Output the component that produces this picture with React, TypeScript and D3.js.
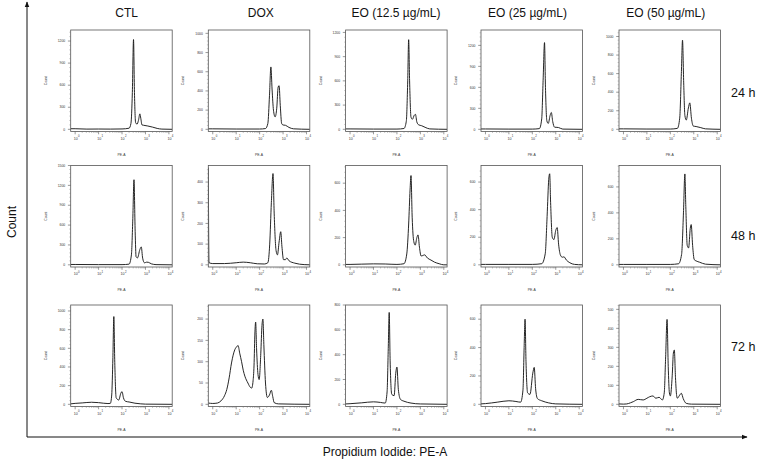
import React from "react";
import * as d3 from "d3";

const conditions = ["CTL", "DOX", "EO (12.5 µg/mL)", "EO (25 µg/mL)", "EO (50 µg/mL)"];
const timepoints = ["24 h", "48 h", "72 h"];
const xDecades = [0, 1, 2, 3, 4];

// histogram outlines: [log10(PE-A), count]
const ctl24 = [[-0.19,8],[0,8],[0.5,3],[1,4],[1.5,3],[2,5],[2.3,15],[2.38,80],[2.44,500],[2.49,1220],[2.53,500],[2.58,90],[2.64,70],[2.7,120],[2.76,210],[2.8,150],[2.85,60],[2.92,55],[3.1,45],[3.3,30],[3.5,12],[3.7,3],[4.14,0]];
const dox24 = [[-0.19,5],[0,5],[1,3],[2,3],[2.25,8],[2.35,60],[2.42,350],[2.48,650],[2.53,420],[2.59,200],[2.66,130],[2.73,220],[2.79,440],[2.83,455],[2.88,250],[2.94,60],[3.0,45],[3.1,42],[3.25,20],[3.45,5],[4.14,0]];
const eo12_24 = [[-0.19,5],[0,5],[1,3],[2,3],[2.3,10],[2.4,100],[2.46,600],[2.5,1110],[2.54,600],[2.6,150],[2.66,125],[2.74,175],[2.79,185],[2.85,90],[2.93,55],[3.05,45],[3.2,25],[3.4,5],[4.14,0]];
const eo25_24 = [[-0.19,5],[0,5],[1,3],[2,3],[2.3,10],[2.4,150],[2.46,700],[2.52,1240],[2.56,600],[2.62,120],[2.68,85],[2.76,200],[2.81,240],[2.87,110],[2.95,30],[3.05,28],[3.12,25],[3.3,3],[4.14,0]];
const eo50_24 = [[-0.19,5],[0,5],[1,3],[2,3],[2.3,10],[2.4,120],[2.47,600],[2.52,960],[2.57,500],[2.62,150],[2.68,100],[2.77,230],[2.83,285],[2.9,120],[2.98,35],[3.1,30],[3.3,18],[3.5,5],[4.14,0]];

const ctl48 = [[-0.19,5],[0,5],[1,3],[2,3],[2.3,10],[2.4,150],[2.46,700],[2.51,1285],[2.56,500],[2.6,120],[2.66,105],[2.76,230],[2.82,270],[2.88,100],[2.96,30],[3.05,40],[3.12,38],[3.25,15],[3.45,3],[4.14,0]];
const dox48 = [[-0.19,470],[-0.16,10],[0,6],[0.5,6],[1,10],[1.3,13],[1.6,10],[1.9,5],[2.2,4],[2.35,10],[2.43,100],[2.5,300],[2.57,441],[2.62,250],[2.7,70],[2.76,48],[2.83,110],[2.9,160],[2.95,90],[3.02,25],[3.1,25],[3.16,33],[3.25,20],[3.5,8],[3.9,1],[4.14,0]];
const eo12_48 = [[-0.19,3],[0,3],[0.5,5],[1,7],[1.5,6],[2,3],[2.3,8],[2.42,80],[2.5,300],[2.56,550],[2.6,656],[2.65,350],[2.72,170],[2.78,145],[2.85,200],[2.9,220],[2.96,130],[3.03,65],[3.1,68],[3.18,73],[3.3,50],[3.45,35],[3.6,20],[3.8,8],[4.0,0],[4.14,0]];
const eo25_48 = [[-0.19,3],[0,3],[1,3],[2,3],[2.4,8],[2.55,80],[2.63,350],[2.7,620],[2.74,660],[2.78,450],[2.85,200],[2.92,183],[3.0,250],[3.06,270],[3.12,150],[3.2,70],[3.28,55],[3.35,58],[3.45,35],[3.6,15],[3.8,3],[4.14,0]];
const eo50_48 = [[-0.19,3],[0,3],[1,3],[2,3],[2.35,8],[2.48,80],[2.56,400],[2.62,700],[2.66,450],[2.72,150],[2.78,130],[2.85,280],[2.89,310],[2.95,150],[3.02,40],[3.1,30],[3.25,20],[3.5,5],[4.14,0]];

const ctl72 = [[-0.19,5],[0,10],[0.3,15],[0.7,22],[1.0,18],[1.2,12],[1.4,8],[1.5,10],[1.56,100],[1.61,500],[1.65,940],[1.69,450],[1.75,70],[1.86,46],[1.95,120],[2.0,136],[2.06,70],[2.15,32],[2.3,25],[2.55,12],[2.8,5],[3.0,2],[4.14,0]];
const dox72 = [[-0.19,3],[0,2],[0.2,3],[0.35,8],[0.5,20],[0.6,35],[0.7,62],[0.8,97],[0.94,128],[1.02,135],[1.08,138],[1.15,120],[1.23,100],[1.3,80],[1.37,66],[1.5,50],[1.6,40],[1.66,38],[1.72,55],[1.76,90],[1.8,170],[1.83,193],[1.87,130],[1.93,70],[1.98,58],[2.05,120],[2.1,185],[2.14,200],[2.18,140],[2.25,50],[2.33,16],[2.42,22],[2.5,33],[2.56,18],[2.62,4],[2.8,1],[4.14,0]];
const eo12_72 = [[-0.19,3],[0,5],[0.5,12],[1.0,20],[1.3,15],[1.5,10],[1.58,100],[1.63,450],[1.67,740],[1.71,350],[1.78,80],[1.88,70],[1.95,250],[2.0,300],[2.06,120],[2.15,40],[2.3,25],[2.6,10],[3.0,3],[4.14,0]];
const eo25_72 = [[-0.19,3],[0,5],[0.5,15],[1.0,25],[1.3,20],[1.5,15],[1.6,100],[1.65,400],[1.69,600],[1.73,300],[1.8,80],[1.9,70],[2.02,220],[2.08,260],[2.14,110],[2.22,40],[2.4,25],[2.7,10],[3.0,3],[4.14,0]];
const eo50_72 = [[-0.19,2],[0,1],[0.14,2],[0.3,8],[0.42,14],[0.63,26],[0.84,23],[1.0,32],[1.12,40],[1.26,44],[1.38,32],[1.52,37],[1.66,23],[1.74,60],[1.8,250],[1.86,447],[1.91,200],[1.96,60],[2.0,44],[2.08,150],[2.13,270],[2.17,286],[2.22,140],[2.27,45],[2.3,32],[2.38,45],[2.47,58],[2.55,30],[2.68,5],[2.9,1],[4.14,0]];

const histograms = [
  [ctl24, dox24, eo12_24, eo25_24, eo50_24],
  [ctl48, dox48, eo12_48, eo25_48, eo50_48],
  [ctl72, dox72, eo12_72, eo25_72, eo50_72],
];
const yMax = [
  [1350, 1035, 1230, 1420, 1070],
  [1500, 480, 730, 720, 765],
  [1064, 233, 800, 700, 523],
];
const yStep = [
  [300, 200, 300, 300, 200],
  [300, 100, 200, 200, 200],
  [200, 50, 200, 200, 100],
];

const colX = [70.7, 208.3, 345.6, 481, 619];
const rowY = [30, 165.5, 305];
const titleX = [126.7, 260.8, 396, 527.5, 665.8];
const rowLabelY = [96.7, 240, 351];
const PW = 101.5;
const PH = 101.5;
const FONT = "Liberation Sans, Arial, sans-serif";

function Panel({ r, c }: { r: number; c: number }) {
  const data = histograms[r][c] as number[][];
  const max = yMax[r][c];
  const step = yStep[r][c];
  const x = d3.scaleLinear().domain([-0.19, 4.14]).range([0, PW]);
  const y = d3.scaleLinear().domain([-max * 0.022, max]).range([PH, 0]);
  const line = d3
    .line<number[]>()
    .x((d) => x(d[0]))
    .y((d) => y(d[1]))
    .curve(d3.curveMonotoneX);
  const majors = d3.range(0, max + 0.001, step);
  const minors = d3.range(0, max, step / 5).filter((v) => Math.abs(v / step - Math.round(v / step)) > 1e-6);
  const xMinors: number[] = [];
  for (let k = 0; k < 4; k++) for (let m = 2; m < 10; m++) xMinors.push(Math.log10(m * Math.pow(10, k)));
  const id = `clip-${r}-${c}`;
  return (
    <g transform={`translate(${colX[c]},${rowY[r]})`}>
      <clipPath id={id}>
        <rect x={0} y={0} width={PW} height={PH} />
      </clipPath>
      <path d={line(data) || ""} fill="none" stroke="#1a1a1a" strokeWidth={0.95} clipPath={`url(#${id})`} />
      <rect x={0} y={0} width={PW} height={PH} fill="none" stroke="#555" strokeWidth={0.8} />
      {majors.map((v) => (
        <g key={`ym${v}`}>
          <line x1={-2.8} x2={0} y1={y(v)} y2={y(v)} stroke="#555" strokeWidth={0.6} />
          <text x={-5.5} y={y(v) + 1.2} fontSize={3.4} textAnchor="end" fill="#333" fontFamily={FONT}>
            {v}
          </text>
        </g>
      ))}
      {minors.map((v) => (
        <line key={`yn${v}`} x1={-1.4} x2={0} y1={y(v)} y2={y(v)} stroke="#777" strokeWidth={0.4} />
      ))}
      {xDecades.map((k) => (
        <g key={`xm${k}`}>
          <line x1={x(k)} x2={x(k)} y1={PH} y2={PH + 2.8} stroke="#555" strokeWidth={0.6} />
          <text x={x(k) + 0.6} y={PH + 8.3} fontSize={3.6} textAnchor="middle" fill="#333" fontFamily={FONT}>
            10
          </text>
          <text x={x(k) + 2.9} y={PH + 5.6} fontSize={2.8} textAnchor="start" fill="#333" fontFamily={FONT}>
            {k}
          </text>
        </g>
      ))}
      {xMinors.map((v, i) => (
        <line key={`xn${i}`} x1={x(v)} x2={x(v)} y1={PH} y2={PH + 1.5} stroke="#777" strokeWidth={0.4} />
      ))}
      <text
        transform={`translate(${-24},${PH / 2}) rotate(-90)`}
        fontSize={3.4}
        textAnchor="middle"
        fill="#333"
        fontFamily={FONT}
      >
        Count
      </text>
      <text x={PW / 2} y={PH + 24} fontSize={3.4} textAnchor="middle" fill="#333" fontFamily={FONT}>
        PE-A
      </text>
    </g>
  );
}

export default function App() {
  return (
    <div style={{ position: "absolute", left: 0, top: 0 }}>
      <svg width={762} height={462} viewBox="0 0 762 462" style={{ display: "block", background: "#fff" }}>
        <defs>
          <marker id="arrowHead" viewBox="0 0 10 10" refX={9} refY={5} markerWidth={6} markerHeight={6} orient="auto">
            <path d="M0,1 L10,5 L0,9 z" fill="#111" />
          </marker>
        </defs>
        {conditions.map((t, c) => (
          <text key={t} x={titleX[c]} y={16.7} fontSize={12} textAnchor="middle" fill="#111" fontFamily={FONT}>
            {t}
          </text>
        ))}
        {timepoints.map((t, r) => (
          <text key={t} x={731} y={rowLabelY[r]} fontSize={12.5} textAnchor="start" fill="#111" fontFamily={FONT}>
            {t}
          </text>
        ))}
        {histograms.map((row, r) => row.map((_, c) => <Panel key={`${r}-${c}`} r={r} c={c} />))}
        <line x1={27} y1={437} x2={27} y2={2} stroke="#111" strokeWidth={1} markerEnd="url(#arrowHead)" />
        <line x1={27} y1={437} x2={747} y2={437} stroke="#111" strokeWidth={1} markerEnd="url(#arrowHead)" />
        <text transform="translate(16,222) rotate(-90)" fontSize={12} textAnchor="middle" fill="#111" fontFamily={FONT}>
          Count
        </text>
        <text x={385} y={456} fontSize={12} textAnchor="middle" fill="#111" fontFamily={FONT}>
          Propidium Iodide: PE-A
        </text>
      </svg>
    </div>
  );
}
